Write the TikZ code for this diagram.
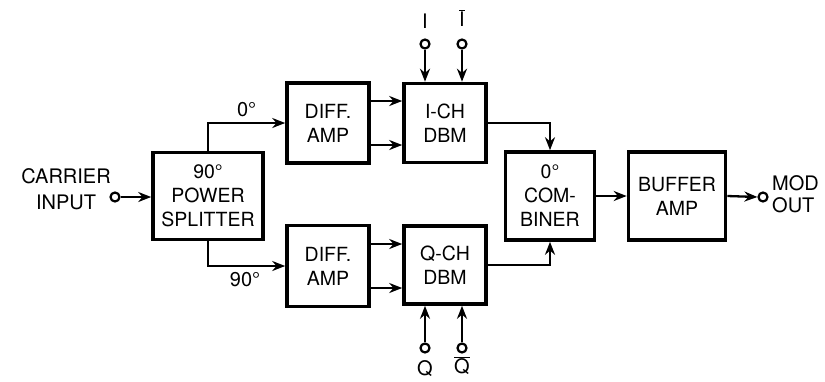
\documentclass[tikz,border=0pt]{standalone}
\usepackage{fontspec}
\setmainfont{TeX Gyre Heros}
\usetikzlibrary{arrows.meta,calc}
\newcommand{\barred}[1]{\ensuremath{\overline{\mbox{#1}}}}
\begin{document}
\begin{tikzpicture}[x=1pt,y=-1pt,
  blk/.style={draw,line width=3.6pt,inner sep=0pt,align=center,font=\fontsize{19.5}{24}\selectfont},
  conn/.style={line width=2.3pt},
  arr/.style={conn,-{Stealth[length=13pt,width=10pt]}},
  pin/.style={circle,draw,line width=2.2pt,minimum size=9pt,inner sep=0pt},
  lbl/.style={font=\fontsize{20}{26}\selectfont,inner sep=0pt,align=center}]
\useasboundingbox (0,0) rectangle (825,381);
% blocks
\node[blk,minimum width=110pt,minimum height=87pt] (sp) at (208,196) {90°\\POWER\\SPLITTER};
\node[blk,minimum width=82pt,minimum height=80pt] (da) at (328,123) {DIFF.\\AMP};
\node[blk,minimum width=82pt,minimum height=81pt] (db) at (328,266) {DIFF.\\AMP};
\node[blk,minimum width=82pt,minimum height=79pt] (ic) at (445,123) {I-CH\\DBM};
\node[blk,minimum width=82pt,minimum height=78pt] (qc) at (445,265) {Q-CH\\DBM};
\node[blk,minimum width=89pt,minimum height=88pt] (cb) at (550,196) {0°\\COM-\\BINER};
\node[blk,minimum width=97pt,minimum height=88pt] (bf) at (677,196) {BUFFER\\AMP};
% terminals
\node[pin] (cin) at (115,197) {};
\node[pin] (mout) at (763,197) {};
\node[pin] (ip) at (425,44) {};
\node[pin] (in) at (462,44) {};
\node[pin] (qp) at (425,348) {};
\node[pin] (qn) at (462,348) {};
% labels
\node[lbl] (lcar) at (66,189) {CARRIER\\INPUT};
\node[lbl,anchor=west,align=left,font=\fontsize{20}{22}\selectfont] (lmod) at (772,194) {MOD\\OUT};
\node[lbl] (li) at (425,21) {I};
\node[lbl] (lib) at (462,18) {\barred{I}};
\node[lbl] (lq) at (425,369) {Q};
\node[lbl] (lqb) at (462,366) {\barred{Q}};
% connectors
\draw[arr] (cin.east) -- (cin -| sp.west);
\draw[arr] (sp.north) |- node[lbl,pos=0.75,above=5pt] (l0) {0°} (da.west);
\draw[arr] (sp.south) |- node[lbl,pos=0.74,below=5pt] (l90) {90°} (db.west);
\draw[arr] ([yshift=22pt]da.east) -- ([yshift=22pt]da.east -| ic.west);
\draw[arr] ([yshift=-22pt]da.east) -- ([yshift=-22pt]da.east -| ic.west);
\draw[arr] ([yshift=22pt]db.east) -- ([yshift=22pt]db.east -| qc.west);
\draw[arr] ([yshift=-22pt]db.east) -- ([yshift=-22pt]db.east -| qc.west);
\draw[arr] (ip.south) -- (ip |- ic.north);
\draw[arr] (in.south) -- (in |- ic.north);
\draw[arr] (qp.north) -- (qp |- qc.south);
\draw[arr] (qn.north) -- (qn |- qc.south);
\draw[arr] (ic.east) -| (cb.north);
\draw[arr] (qc.east) -| (cb.south);
\draw[arr] (cb.east) -- (bf.west);
\draw[arr] (bf.east) -- (mout.west);
\end{tikzpicture}
\end{document}
